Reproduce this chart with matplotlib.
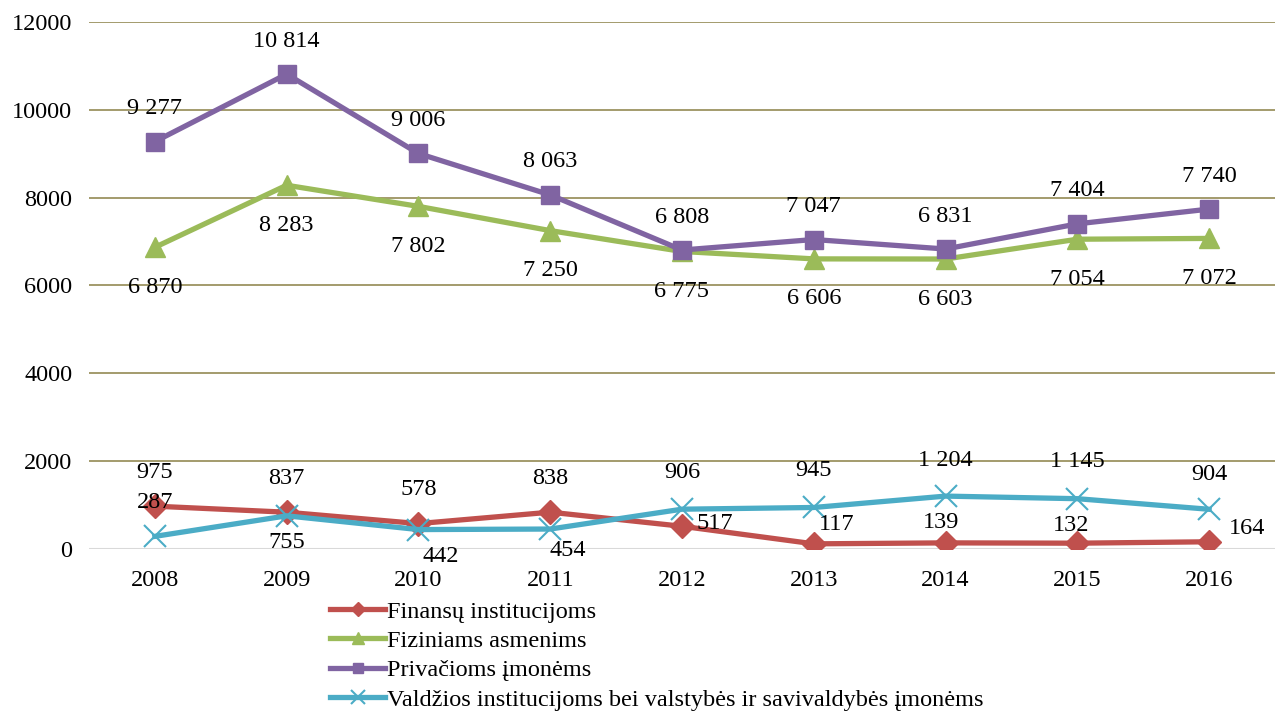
import matplotlib.pyplot as plt

plt.rcParams['font.family'] = ['Liberation Serif', 'DejaVu Serif']

years = ['2008', '2009', '2010', '2011', '2012', '2013', '2014', '2015', '2016']
names = ['Finansų institucijoms',
         'Fiziniams asmenims',
         'Privačioms įmonėms',
         'Valdžios institucijoms bei valstybės ir savivaldybės įmonėms']

finansu = [975, 837, 578, 838, 517, 117, 139, 132, 164]
fiziniams = [6870, 8283, 7802, 7250, 6775, 6606, 6603, 7054, 7072]
privacioms = [9277, 10814, 9006, 8063, 6808, 7047, 6831, 7404, 7740]
valdzios = [287, 755, 442, 454, 906, 945, 1204, 1145, 904]

series = [finansu, fiziniams, privacioms, valdzios]
colors = ['#C0504D', '#9BBB59', '#8064A2', '#4BACC6']
markers = ['D', '^', 's', 'x']
msizes = [12, 15, 13, 16]

# label offsets in pixels (dx, dy) per point
up = (0, 34)
down = (0, -40)
offsets = [
    [up, up, up, up, (33, 3), (23, 19), (-5, 20), (-6, 18), (38, 13)],
    [down] * 9,
    [(0, 33)] * 9,
    [(0, 34), (0, -27), (22, -27), (18, -21), (0, 37), (0, 37), (0, 36), (0, 37), (0, 35)],
]

fs = 17.5

def fmt(v):
    return '{:,}'.format(v).replace(',', ' ')

fig = plt.figure(figsize=(12.75, 7.15), dpi=100)
ax = fig.add_axes([0.0698, 0.2322, 0.9302, 0.737])

x = list(range(len(years)))
for s, col, m, ms, name, offs in zip(series, colors, markers, msizes, names, offsets):
    if m == 'x':
        ax.plot(x, s, color=col, lw=3.8, marker=m, markersize=ms, markeredgewidth=1.5,
                label=name, zorder=3)
    else:
        ax.plot(x, s, color=col, lw=3.8, marker=m, markersize=ms, label=name, zorder=3)
    for xi, v, o in zip(x, s, offs):
        ax.annotate(fmt(v), (xi, v), xytext=o, textcoords='offset pixels',
                    ha='center', va='center', fontsize=fs, zorder=4)

ax.set_xlim(-0.5, 8.5)
ax.set_ylim(0, 12000)
ax.set_yticks(range(0, 12001, 2000))
ax.set_xticks(x)
ax.set_xticklabels(years)
ax.tick_params(length=0, labelsize=fs)
ax.tick_params(axis='x', pad=15)
ax.tick_params(axis='y', pad=12)
for sp in ax.spines.values():
    sp.set_visible(False)
for yv in range(2000, 12001, 2000):
    ax.axhline(yv, color='#948A54', lw=1.2, zorder=1)
ax.axhline(0, color='#D9D9D9', lw=1.5, zorder=1)

fig.legend(loc='upper left', bbox_to_anchor=(0.259, 0.16), frameon=False,
           fontsize=fs, handlelength=2.25, handletextpad=0.1, labelspacing=0.3,
           borderpad=0, borderaxespad=0, markerscale=0.6)

fig.savefig('out.png', dpi=100)
